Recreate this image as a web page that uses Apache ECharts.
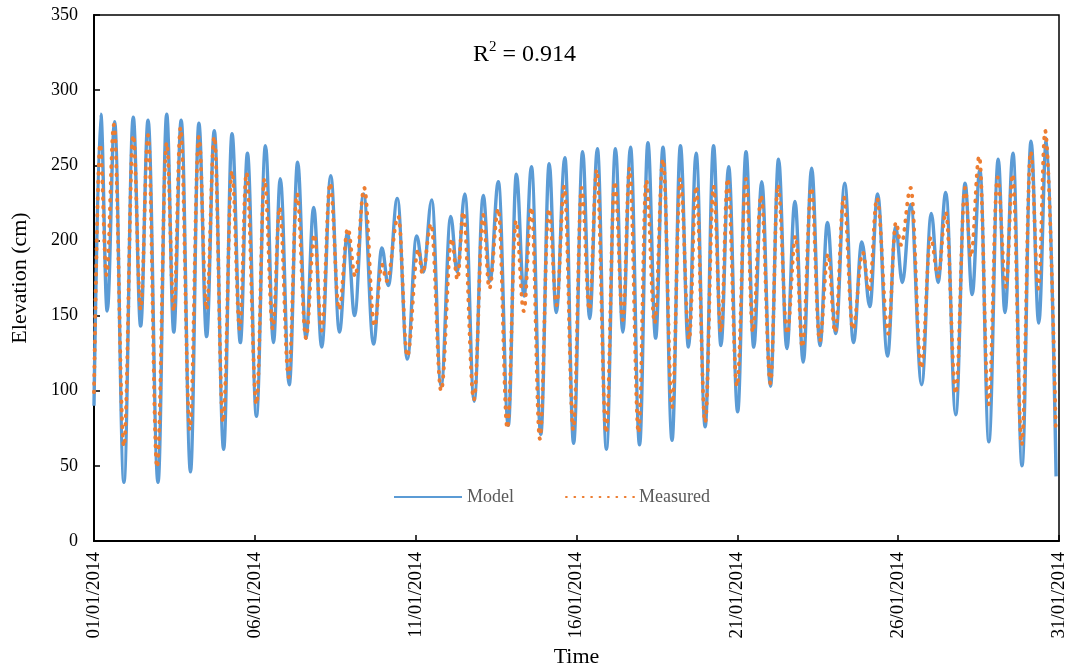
<!DOCTYPE html>
<html>
<head>
<meta charset="utf-8">
<script src="https://cdn.jsdelivr.net/npm/echarts@6/dist/echarts.min.js"></script>
<style>
html,body{margin:0;padding:0;background:#fff;}
#chart{width:1070px;height:671px;}
</style>
</head>
<body>
<div id="chart"></div>
<script>
// Time in days after 01/01/2014 00:00 (x-axis), elevation in cm
const modelTimes = [0,0.21,0.41,0.64,0.93,1.22,1.45,1.68,1.99,2.26,2.48,2.71,3.00,3.26,3.50,3.74,4.03,4.29,4.55,4.77,5.05,5.33,5.58,5.79,6.07,6.33,6.59,6.83,7.08,7.36,7.63,7.88,8.10,8.38,8.69,8.95,9.15,9.43,9.74,10.03,10.24,10.50,10.79,11.09,11.29,11.53,11.82,12.10,12.31,12.57,12.88,13.13,13.37,13.60,13.89,14.15,14.37,14.64,14.91,15.19,15.41,15.65,15.93,16.21,16.44,16.68,16.96,17.22,17.46,17.69,17.97,18.23,18.48,18.72,19.00,19.26,19.49,19.73,20.01,20.27,20.51,20.76,21.03,21.28,21.54,21.79,22.05,22.31,22.57,22.80,23.06,23.34,23.61,23.87,24.12,24.36,24.67,24.92,25.13,25.39,25.73,26.03,26.24,26.48,26.79,27.08,27.30,27.54,27.82,28.11,28.32,28.57,28.85,29.13,29.37,29.61,29.91];
const modelValues = [90,284,153,279,39,282,143,280,39,284,139,280,46,278,136,273,61,271,132,258,83,263,132,241,104,252,135,222,129,243,139,205,150,231,131,195,170,228,121,203,179,227,103,216,179,231,93,230,173,239,77,244,163,249,71,251,152,255,65,259,148,261,61,261,139,262,64,265,135,262,67,263,129,258,76,263,130,249,86,259,129,239,103,254,128,226,119,248,130,212,138,238,132,199,156,231,123,209,172,224,104,218,172,232,84,238,164,247,66,254,152,258,50,266,145,268,43];
const measuredTimes = [0,0.19,0.39,0.62,0.93,1.22,1.45,1.68,1.96,2.26,2.48,2.69,2.98,3.26,3.50,3.74,4.01,4.29,4.53,4.74,5.05,5.30,5.56,5.77,6.05,6.31,6.59,6.85,7.08,7.34,7.62,7.89,8.12,8.40,8.72,8.95,9.10,9.46,9.74,10.08,10.21,10.48,10.79,11.12,11.30,11.48,11.81,12.10,12.29,12.57,12.85,13.12,13.36,13.60,13.86,14.14,14.38,14.62,14.90,15.16,15.40,15.63,15.92,16.19,16.44,16.65,16.93,17.17,17.43,17.69,17.97,18.23,18.50,18.72,19.00,19.26,19.49,19.70,19.99,20.27,20.48,20.74,21.03,21.26,21.55,21.81,22.02,22.30,22.56,22.82,23.04,23.31,23.59,23.90,24.10,24.34,24.69,24.93,25.09,25.39,25.72,26.01,26.24,26.48,26.79,27.08,27.26,27.52,27.81,28.09,28.35,28.56,28.84,29.12,29.36,29.57,29.90];
const measuredValues = [99,264,177,277,63,270,154,270,49,265,153,275,74,269,154,269,79,246,141,245,91,241,141,222,109,231,135,204,140,238,154,208,176,235,143,184,173,216,123,194,178,211,100,201,174,219,94,217,168,221,75,213,153,222,68,221,157,236,74,235,154,247,72,239,147,248,72,240,145,254,89,241,134,236,79,236,139,241,103,241,139,230,105,237,138,203,129,235,133,191,139,229,141,192,166,228,138,212,197,235,115,202,176,219,98,235,189,256,91,242,169,244,64,259,168,273,74];
const xTickLabels = ['01/01/2014','06/01/2014','11/01/2014','16/01/2014','21/01/2014','26/01/2014','31/01/2014'];
const yTicks = [0,50,100,150,200,250,300,350];
const seriesNames = ['Model','Measured'];
const r2Text = '0.914';

const FONT = "'Times New Roman','Liberation Serif',serif";
const zip = (t, v) => t.map((d, i) => [d, v[i]]);

const chart = echarts.init(document.getElementById('chart'), null, {renderer: 'canvas'});
chart.setOption({
  animation: false,
  backgroundColor: '#ffffff',
  grid: {left: 94, right: 11, top: 15, bottom: 130, show: true, borderColor: '#000', borderWidth: 1.5,
    containLabel: false, outerBoundsMode: 'none'},
  graphic: [{
    type: 'text', left: 473, top: 40,
    style: {
      text: '{a|R}{b|2}{a| = ' + r2Text + '}',
      rich: {
        a: {fontSize: 24, fontFamily: FONT, fill: '#000', lineHeight: 27, verticalAlign: 'bottom'},
        b: {fontSize: 15, fontFamily: FONT, fill: '#000', lineHeight: 27, verticalAlign: 'top'}
      }
    }
  }],
  legend: {
    left: 388, top: 483,
    itemWidth: 68, itemHeight: 14, itemGap: 51,
    itemStyle: {opacity: 0},
    textStyle: {fontFamily: FONT, fontSize: 18, color: '#595959'},
    data: seriesNames
  },
  xAxis: {
    type: 'value', min: 0, max: 30, interval: 5,
    name: 'Time', nameLocation: 'middle', nameGap: 104,
    nameTextStyle: {fontFamily: FONT, fontSize: 22, color: '#000'},
    axisLine: {lineStyle: {color: '#000', width: 2}},
    axisTick: {inside: true, length: 6, lineStyle: {color: '#000', width: 1.5}},
    axisLabel: {rotate: 90, margin: 11, fontFamily: FONT, fontSize: 19, color: '#000',
      formatter: v => xTickLabels[Math.round(v / 5)]},
    splitLine: {show: false}
  },
  yAxis: {
    type: 'value', min: yTicks[0], max: yTicks[yTicks.length - 1], interval: 50,
    name: 'Elevation (cm)', nameLocation: 'middle', nameGap: 63,
    nameTextStyle: {fontFamily: FONT, fontSize: 22, color: '#000'},
    axisLine: {show: true, lineStyle: {color: '#000', width: 2}},
    axisTick: {show: true, inside: true, length: 6, lineStyle: {color: '#000', width: 1.5}},
    axisLabel: {margin: 16, fontFamily: FONT, fontSize: 18, color: '#000'},
    splitLine: {show: false}
  },
  series: [
    {
      name: seriesNames[0], type: 'line', data: zip(modelTimes, modelValues),
      showSymbol: false, symbol: 'none', smooth: 0.38, smoothMonotone: 'x',
      lineStyle: {color: '#5B9BD5', width: 3.4}, itemStyle: {color: '#5B9BD5'}, z: 2
    },
    {
      name: seriesNames[1], type: 'line', data: zip(measuredTimes, measuredValues),
      showSymbol: false, symbol: 'none', smooth: 0.38, smoothMonotone: 'x',
      lineStyle: {color: '#ED7D31', width: 3.8, type: [0.8, 7.6], cap: 'round'},
      itemStyle: {color: '#ED7D31'}, z: 3
    }
  ]
});
</script>
</body>
</html>
